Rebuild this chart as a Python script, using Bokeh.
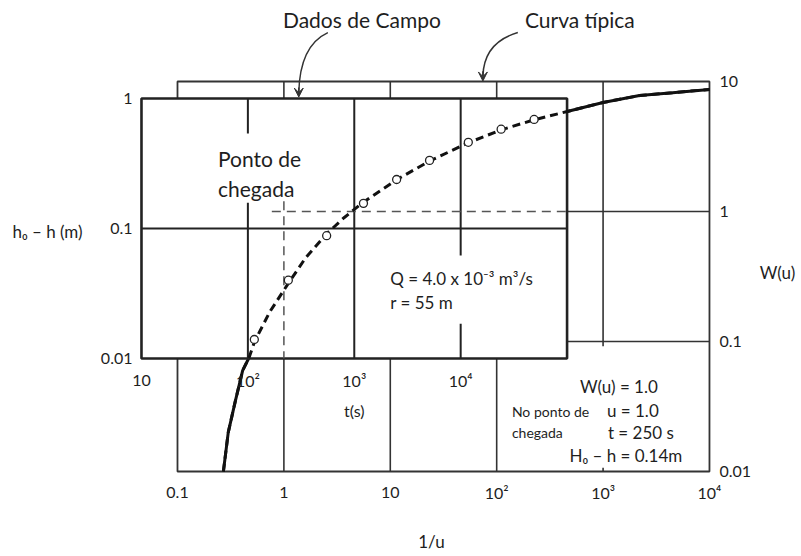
from bokeh.plotting import figure
from bokeh.models import Range1d, LogScale, Arrow, VeeHead
from bokeh.core.properties import value
from bokeh.embed import file_html
from bokeh.resources import INLINE

# ---------------- data ----------------
# Type curve (Theis): W(u) against 1/u
inv_u = [0.27, 0.30, 0.35, 0.41, 0.47, 0.53, 0.74, 1.1, 1.6, 2.5, 3.7, 5.5,
         11.5, 24, 55, 112, 230, 460, 1000, 2200, 4500, 10000]
W_u = [0.010, 0.020, 0.035, 0.060, 0.075, 0.10, 0.17, 0.28, 0.44, 0.67, 0.90, 1.17,
       1.76, 2.47, 3.40, 4.27, 5.10, 5.88, 6.9, 7.8, 8.2, 8.7]

# Field data: drawdown h0-h (m) against t (s)
t_s = [115, 240, 550, 1220, 2500, 5100, 11800, 24000, 49000]
drawdown = [0.014, 0.040, 0.088, 0.156, 0.238, 0.334, 0.46, 0.58, 0.69]

# Sheet ticks and labels
outer_x_ticks = [0.1, 1, 10, 100, 1000, 10000]
outer_x_labels = ["0.1", "1", "10", "10²", "10³", "10⁴"]
outer_y_ticks = [0.01, 0.1, 1, 10]
outer_y_labels = ["0.01", "0.1", "1", "10"]
inner_x_ticks = [10, 100, 1000, 10000, 100000]
inner_x_labels = ["10", "10²", "10³", "10⁴"]
inner_y_ticks = [0.01, 0.1, 1]
inner_y_labels = ["0.01", "0.1", "1"]

# Match point: (1/u = 1, W = 1) of the type curve lies on (t, h0-h) of the field sheet
T_MATCH = 218.0
H_MATCH = 0.135

# Visible extent of the drawing in type-curve units
X_MIN, X_MAX = 0.00217, 7.17e4
Y_MIN, Y_MAX = 0.0023, 42.0

INK = "#1e1e1e"
FONT = "Lato"

p = figure(frame_width=800, frame_height=554,
           x_axis_type="log", y_axis_type="log",
           x_axis_location=None, y_axis_location=None,
           x_range=Range1d(X_MIN, X_MAX), y_range=Range1d(Y_MIN, Y_MAX),
           output_backend="svg", toolbar_location=None,
           min_border_left=0, min_border_right=0,
           min_border_top=0, min_border_bottom=0)
p.extra_x_ranges = {"t": Range1d(X_MIN * T_MATCH, X_MAX * T_MATCH)}
p.extra_y_ranges = {"h": Range1d(Y_MIN * H_MATCH, Y_MAX * H_MATCH)}
p.extra_x_scales = {"t": LogScale()}
p.extra_y_scales = {"h": LogScale()}

p.grid.visible = False
p.outline_line_color = None
p.background_fill_color = "white"
p.border_fill_color = "white"

# ---------------- type-curve sheet ----------------
x0o, x1o = outer_x_ticks[0], outer_x_ticks[-1]
y0o, y1o = outer_y_ticks[0], outer_y_ticks[-1]
p.segment(x0=outer_x_ticks[1:-1], y0=[y0o] * 4, x1=outer_x_ticks[1:-1], y1=[y1o] * 4,
          line_color="#333", line_width=1.6)
p.segment(x0=[x0o] * 2, y0=outer_y_ticks[1:3], x1=[x1o] * 2, y1=outer_y_ticks[1:3],
          line_color="#333", line_width=1.6)
p.quad(left=x0o, right=x1o, bottom=y0o, top=y1o, fill_color=None,
       line_color="#333", line_width=1.8)

# solid type curve
p.line(inv_u, W_u, line_color="#111", line_width=3)

# white area behind the match-point note
p.quad(left=114, right=6800, bottom=0.0107, top=0.092, fill_color="white", line_color=None)

# ---------------- field-data sheet ----------------
tx0, tx1 = inner_x_ticks[0], inner_x_ticks[-1]
hy0, hy1 = inner_y_ticks[0], inner_y_ticks[-1]
p.quad(left=tx0, right=tx1, bottom=hy0, top=hy1, fill_color="white",
       line_color="#222", line_width=2.6, x_range_name="t", y_range_name="h")
p.segment(x0=inner_x_ticks[1:-1], y0=[hy0] * 3, x1=inner_x_ticks[1:-1], y1=[hy1] * 3,
          line_color="#222", line_width=2.0, x_range_name="t", y_range_name="h")
p.segment(x0=[tx0], y0=[inner_y_ticks[1]], x1=[tx1], y1=[inner_y_ticks[1]],
          line_color="#222", line_width=2.0, x_range_name="t", y_range_name="h")

# white areas behind texts on the field sheet
p.quad(left=0.202, right=1.61, bottom=1.17, top=3.98, fill_color="white", line_color=None)
p.quad(left=8.7, right=255, bottom=0.137, top=0.459, fill_color="white", line_color=None)

# match-point guide lines
p.segment(x0=[1], y0=[1.2], x1=[1], y1=[hy0 / H_MATCH], line_color="#555",
          line_width=1.5, line_dash="9 6")
p.segment(x0=[0.77], y0=[1], x1=[tx1 / T_MATCH], y1=[1], line_color="#555",
          line_width=1.5, line_dash="9 6")

# dashed type curve over the field sheet
p.line(inv_u, W_u, line_color="#111", line_width=3, line_dash="8 5")

# field data points
p.scatter(t_s, drawdown, marker="circle", size=8, fill_color="white",
          line_color="#222", line_width=1.3, x_range_name="t", y_range_name="h")

# ---------------- texts ----------------
def txts(xs, ys, ss, size, align="left", baseline="alphabetic", **kw):
    p.text(x=xs, y=ys, text=ss, text_font=value(FONT), text_font_size=value(size),
           text_color=INK, text_align=align, text_baseline=baseline, **kw)

def txt(x, y, s, size, align="left", baseline="alphabetic", **kw):
    txts([x], [y], [s], size, align, baseline, **kw)

# tick labels of the type-curve sheet
txts(outer_x_ticks, [y0o] * 6, outer_x_labels, "16px", "center", "middle", y_offset=21)
txts([x1o] * 4, outer_y_ticks, outer_y_labels, "16px", "left", "middle", x_offset=10)

# tick labels of the field-data sheet
txts(inner_x_ticks[:-1], [hy0] * 4, inner_x_labels, "16px", "center", "middle",
     y_offset=22, x_range_name="t", y_range_name="h")
txts([tx0] * 3, inner_y_ticks, inner_y_labels, "16px", "right", "middle",
     x_offset=-9, x_range_name="t", y_range_name="h")
txt(1000, hy0, "t(s)", "16px", "center", "middle", y_offset=52,
    x_range_name="t", y_range_name="h")

# axis titles
txt(0.006, 0.70, "h₀ – h (m)", "17px", "center", "middle")
txt(43600, 0.34, "W(u)", "17px", "center", "middle")
txt(24.4, 0.00289, "1/u", "17px", "center", "middle")

txt(5.41, 30, "Dados de Campo", "21px", "center", "middle")
txt(605, 30, "Curva típica", "21px", "center", "middle")
txt(0.240, 2.56, "Ponto de", "21px")
txt(0.240, 1.50, "chegada", "21px")
txt(10, 0.305, "Q = 4.0 x 10⁻³ m³/s", "17px")
txt(10, 0.20, "r = 55 m", "17px")
txt(1407, 0.0451, "W(u) = 1.0", "17px", "center")
txt(1905, 0.0295, "u = 1.0", "17px", "center")
txt(2266, 0.0200, "t = 250 s", "17px", "center")
txt(1637, 0.0133, "H₀ – h = 0.14m", "17px", "center")
txt(139, 0.0290, "No ponto de", "14px")
txt(139, 0.0200, "chegada", "14px")

# arrows from the titles
p.quadratic(x0=[2.59], y0=[23.8], x1=[1.38], y1=[8.2], cx=[1.41], cy=[18.9],
            line_color="#333", line_width=1.5)
p.quadratic(x0=[158], y0=[23.8], x1=[74.2], y1=[11.0], cx=[75.8], cy=[20.0],
            line_color="#333", line_width=1.5)
for xa, ys, ye in [(1.38, 9.0, 7.6), (74.2, 12.0, 10.1)]:
    p.add_layout(Arrow(end=VeeHead(size=9, fill_color="#333", line_color="#333", line_width=1),
                       x_start=xa, y_start=ys, x_end=xa, y_end=ye,
                       line_color="#333", line_width=1.5))

open("out.html", "w").write(file_html(p, INLINE))
